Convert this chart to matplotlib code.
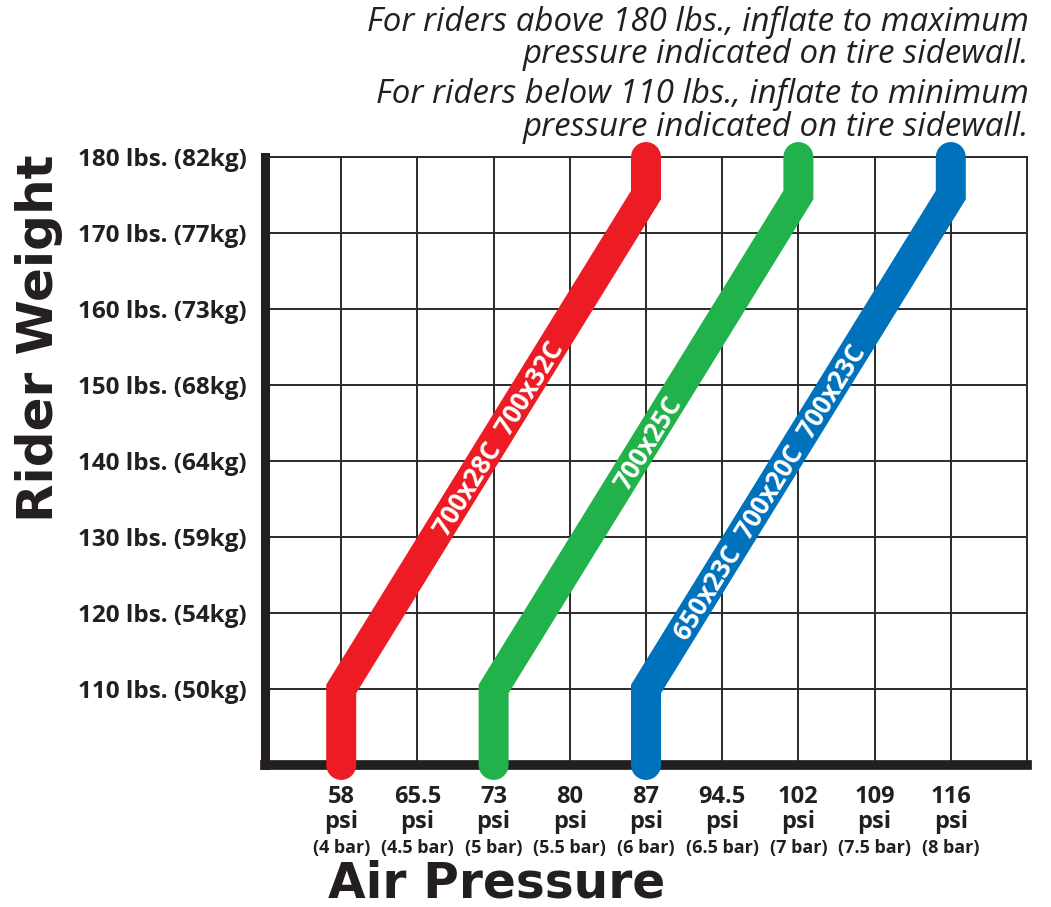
import matplotlib
matplotlib.use("Agg")
import matplotlib.pyplot as plt
import numpy as np

# ---------------- data ----------------
psi_ticks = [58, 65.5, 73, 80, 87, 94.5, 102, 109, 116]
bar_ticks = ["4", "4.5", "5", "5.5", "6", "6.5", "7", "7.5", "8"]
weight_lbs = [110, 120, 130, 140, 150, 160, 170, 180]
weight_kg = [50, 54, 59, 64, 68, 73, 77, 82]

tire_labels = ["700x28C 700x32C", "700x25C", "650x23C 700x20C 700x23C"]
tire_colors = ["#ED1C24", "#22B24C", "#0072BC"]
red_psi = [58, 58, 87, 87]
green_psi = [73, 73, 102, 102]
blue_psi = [87, 87, 116, 116]
path_lbs = [100, 110, 175, 180]
label_frac = [0.51, 0.50, 0.40]

note_lines = ["For riders above 180 lbs., inflate to maximum",
              "pressure indicated on tire sidewall.",
              "For riders below 110 lbs., inflate to minimum",
              "pressure indicated on tire sidewall."]
note_baselines_px = [31, 63, 103, 136]

DARK = "#231F20"
W, H = 1051, 907

fig = plt.figure(figsize=(W / 100, H / 100), dpi=100)
ax = fig.add_axes([265 / W, 1 - 765 / H, (1027 - 265) / W, (765 - 157) / H])

idx = np.arange(len(psi_ticks))


def psi_to_x(p):
    return np.interp(p, psi_ticks, idx)


ax.set_xlim(-1, len(psi_ticks))
ax.set_ylim(100, 180)

# grid
ax.set_xticks(idx)
ax.set_xticklabels([])
ax.set_yticks(weight_lbs)
ax.set_yticklabels([f"{l} lbs. ({k}kg)" for l, k in zip(weight_lbs, weight_kg)],
                   family="Open Sans", fontweight="bold", fontsize=17.5, color=DARK)
ax.tick_params(axis="both", length=0)
ax.tick_params(axis="y", pad=13)
ax.grid(True, color="#2A2A2A", linewidth=1.4)
ax.set_axisbelow(True)

for side in ["top", "right"]:
    ax.spines[side].set_linewidth(1.4)
    ax.spines[side].set_color("#2A2A2A")
ax.spines["left"].set_linewidth(6.5)
ax.spines["bottom"].set_linewidth(7)
for side in ["left", "bottom"]:
    ax.spines[side].set_color(DARK)
    ax.spines[side].set_capstyle("projecting")

# tire bands
series = [red_psi, green_psi, blue_psi]
for ps, col, lab, frac in zip(series, tire_colors, tire_labels, label_frac):
    xs = psi_to_x(ps)
    ax.plot(xs, path_lbs, color=col, linewidth=21.6, solid_capstyle="round",
            solid_joinstyle="miter", clip_on=False, zorder=3)
    x0, y0, x1, y1 = xs[1], path_lbs[1], xs[2], path_lbs[2]
    p0 = ax.transData.transform((x0, y0))
    p1 = ax.transData.transform((x1, y1))
    ang = np.degrees(np.arctan2(p1[1] - p0[1], p1[0] - p0[0]))
    tx = x0 + frac * (x1 - x0)
    ty = y0 + frac * (y1 - y0)
    ax.text(tx, ty, lab.replace(" ", "  "), rotation=ang, rotation_mode="anchor",
            ha="center", va="center_baseline", color="white", family="Open Sans",
            fontweight="bold", fontsize=18.5, zorder=4)

# x tick labels (three lines)
for i, (p, b) in enumerate(zip(psi_ticks, bar_ticks)):
    ax.annotate(f"{p:g}", xy=(i, 0), xycoords=("data", "axes fraction"),
                xytext=(0, -27.5), textcoords="offset points", ha="center",
                va="baseline", family="Open Sans", fontweight="bold",
                fontsize=17, color=DARK, annotation_clip=False)
    ax.annotate("psi", xy=(i, 0), xycoords=("data", "axes fraction"),
                xytext=(0, -45.5), textcoords="offset points", ha="center",
                va="baseline", family="Open Sans", fontweight="bold",
                fontsize=17, color=DARK, annotation_clip=False)
    ax.annotate(f"({b} bar)", xy=(i, 0), xycoords=("data", "axes fraction"),
                xytext=(0, -63), textcoords="offset points", ha="center",
                va="baseline", family="Open Sans", fontweight="bold",
                fontsize=13, color=DARK, annotation_clip=False)

# axis titles
fig.text(53 / W, 1 - 338 / H, "Rider Weight", rotation=90, rotation_mode="anchor",
         ha="center", va="baseline", family="DejaVu Sans", fontweight="bold",
         fontsize=36, color=DARK)
fig.text(497 / W, 1 - 897 / H, "Air Pressure", ha="center", va="baseline",
         family="DejaVu Sans", fontweight="bold", fontsize=35, color=DARK)

# notes
for line, yb in zip(note_lines, note_baselines_px):
    fig.text(1029 / W, 1 - yb / H, line, ha="right", va="baseline",
             family="Open Sans", style="italic", fontsize=23.8, color=DARK)

fig.savefig("out.png", dpi=100)
